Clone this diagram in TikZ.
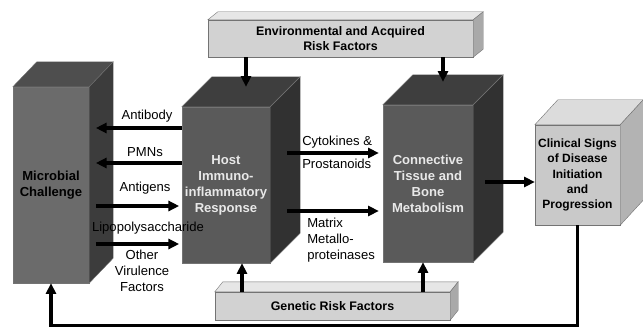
\documentclass[tikz,border=0pt]{standalone}
\usepackage{fontspec}
\setmainfont{Liberation Sans}
\usetikzlibrary{arrows.meta, calc}
\definecolor{micfront}{HTML}{6B6B6B}
\definecolor{mictop}{HTML}{4E4E4E}
\definecolor{micside}{HTML}{3C3C3C}
\definecolor{darkfront}{HTML}{5A5A5A}
\definecolor{darktop}{HTML}{3E3E3E}
\definecolor{darkside}{HTML}{313131}
\definecolor{clinfront}{HTML}{C9C9C9}
\definecolor{clintop}{HTML}{DCDCDC}
\definecolor{clinside}{HTML}{B3B3B3}
\definecolor{barfront}{HTML}{D2D2D2}
\definecolor{bartop}{HTML}{E6E6E6}
\definecolor{barside}{HTML}{A9A9A9}
\definecolor{lighttext}{HTML}{E8E8E8}
\tikzset{
  face/.style={draw=black!55, line width=0.3pt},
  front/.style={face, inner sep=0pt, align=center, font=\fontsize{9.8}{12}\selectfont\bfseries},
  barbox/.style={face, fill=barfront, inner sep=0pt, align=center, font=\fontsize{9.3}{11.25}\selectfont\bfseries},
  lbl/.style={font=\fontsize{9.8}{12}\selectfont, align=center, inner sep=0pt},
  arr/.style={line width=2.4pt, -{Triangle[length=8pt,width=7.5pt]}},
}
\newcommand{\cubefaces}[5]{%
  \filldraw[face, fill=#4] (#1.north west) -- ++(#2,#3) -- ($(#1.north east)+(#2,#3)$) -- (#1.north east) -- cycle;
  \filldraw[face, fill=#5] (#1.north east) -- ++(#2,#3) -- ($(#1.south east)+(#2,#3)$) -- (#1.south east) -- cycle;
}
\begin{document}
\begin{tikzpicture}[x=0.75pt, y=-0.75pt]
\useasboundingbox (0,0) rectangle (643,328);
\node[front, fill=micfront, minimum width=57pt, minimum height=147pt] (mic) at (51,185) {Microbial\\Challenge};
\cubefaces{mic}{24}{-25}{mictop}{micside}
\node[front, fill=darkfront, text=lighttext, minimum width=66pt, minimum height=117pt] (host) at (226,185) {Host\\Immuno-\\inflammatory\\Response};
\cubefaces{host}{30}{-30}{darktop}{darkside}
\node[front, fill=darkfront, text=lighttext, minimum width=67.5pt, minimum height=117.75pt] (conn) at (428,183.5) {Connective\\Tissue and\\Bone\\Metabolism};
\cubefaces{conn}{30}{-30}{darktop}{darkside}
\node[front, fill=clinfront, font=\fontsize{9}{11.4}\selectfont\bfseries, minimum width=63.75pt, minimum height=75pt] (clin) at (577.5,175) {Clinical Signs\\of Disease\\Initiation\\and\\Progression};
\cubefaces{clin}{23}{-25}{clintop}{clinside}
\node[barbox, minimum width=198.75pt, minimum height=27.75pt] (env) at (340.5,38.5) {Environmental and Acquired\\Risk Factors};
\cubefaces{env}{10}{-8}{bartop}{barside}
\node[barbox, minimum width=176.25pt, minimum height=21pt] (gen) at (332.5,306) {Genetic Risk Factors};
\cubefaces{gen}{8}{-10}{bartop}{barside}

\node[lbl] (ab) at (147,116) {Antibody};
\node[lbl] (pmn) at (145,152) {PMNs};
\node[lbl] (ag) at (145,188) {Antigens};
\node[lbl] (lps) at (148,228) {Lipopolysaccharide};
\node[lbl] (ovf) at (142,271) {Other\\Virulence\\Factors};
\node[lbl, anchor=west] (cyt) at (302,142) {Cytokines \&};
\node[lbl, anchor=west] (pros) at (302,164) {Prostanoids};
\node[lbl, anchor=west, align=left] (mmp) at (307,240.5) {Matrix\\Metallo-\\proteinases};

\coordinate (micedge) at ([xshift=5pt]mic.east);
\coordinate (hostedge) at ([xshift=12.75pt]host.east);
\coordinate (connedge) at ([xshift=9pt]conn.east);
\coordinate (hosttop) at ($(host.north)+(20,-20)$);
\coordinate (conntop) at ($(conn.north)+(15,-23)$);
\foreach \yy in {128,163}
  \draw[arr] (host.west |- 0,\yy) -- (micedge |- 0,\yy);
\foreach \yy in {206,244}
  \draw[arr, shorten >=2pt] (micedge |- 0,\yy) -- (host.west |- 0,\yy);
\foreach \yy in {153,211}
  \draw[arr, shorten >=3pt] (hostedge |- 0,\yy) -- (conn.west |- 0,\yy);
\draw[arr] (connedge |- 0,182) -- (clin.west |- 0,182);
\draw[arr] (env.south -| hosttop) -- (hosttop);
\draw[arr] (env.south -| conntop) -- (conntop);
\draw[arr] (gen.north -| 242,0) -- (host.south -| 242,0);
\draw[arr] (gen.north -| 423,0) -- (conn.south -| 423,0);
\draw[arr] (clin.south) -- ++(0,100) -| (mic.south);
\end{tikzpicture}
\end{document}
